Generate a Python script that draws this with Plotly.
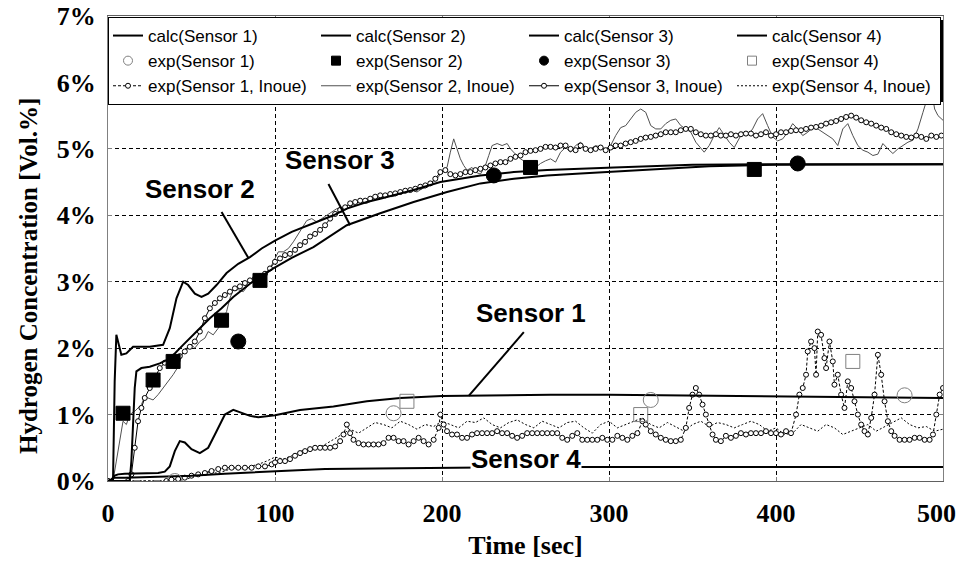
import plotly.graph_objects as go

# ---------------- calculated curves ----------------
calc1_t = [0, 2, 4, 6, 10, 20, 30, 34, 37, 40, 43, 46, 50, 55, 60, 65, 70, 75, 80, 85, 90, 100, 115, 135, 155, 175, 200, 230, 265, 300, 345, 400, 450, 500]
calc1_v = [0, 0.02, 0.08, 0.1, 0.11, 0.12, 0.12, 0.14, 0.22, 0.45, 0.6, 0.58, 0.48, 0.42, 0.5, 0.75, 1.0, 1.07, 1.03, 0.98, 0.96, 0.99, 1.07, 1.12, 1.2, 1.25, 1.28, 1.29, 1.3, 1.3, 1.29, 1.27, 1.26, 1.25]

calc2_t = [0, 3, 4, 5, 6, 8, 11, 15, 25, 33, 37, 41, 45, 48, 52, 56, 60, 65, 71, 78, 85, 92, 100, 110, 123, 135, 143, 155, 163, 175, 183, 199, 223, 243, 263, 303, 350, 400, 450, 500]
calc2_v = [0, 0, 1.5, 2.2, 2.1, 1.9, 1.92, 2.02, 2.02, 2.05, 2.3, 2.75, 3.0, 2.95, 2.82, 2.77, 2.82, 2.95, 3.13, 3.27, 3.37, 3.5, 3.62, 3.75, 3.88, 4.0, 4.1, 4.2, 4.25, 4.33, 4.38, 4.5, 4.6, 4.65, 4.68, 4.72, 4.76, 4.77, 4.77, 4.77]

calc3_t = [0, 13, 14, 15, 16, 17, 20, 25, 31, 35, 40, 45, 50, 55, 61, 68, 75, 85, 99, 110, 123, 143, 163, 183, 203, 223, 243, 263, 283, 303, 330, 360, 400, 450, 500]
calc3_v = [0, 0, 0.3, 0.9, 1.4, 1.65, 1.7, 1.72, 1.77, 1.82, 1.92, 2.05, 2.17, 2.3, 2.45, 2.6, 2.77, 2.97, 3.2, 3.36, 3.52, 3.85, 4.03, 4.2, 4.35, 4.48, 4.55, 4.6, 4.63, 4.66, 4.7, 4.74, 4.76, 4.77, 4.77]

calc4_t = [0, 2, 4, 10, 30, 50, 70, 100, 130, 160, 200, 250, 300, 400, 500]
calc4_v = [0, 0.02, 0.05, 0.05, 0.06, 0.08, 0.11, 0.15, 0.18, 0.19, 0.2, 0.21, 0.21, 0.21, 0.21]

# ---------------- experimental points ----------------
exp1_t = [40, 171, 325, 477]
exp1_v = [0.0, 1.02, 1.22, 1.29]
exp2_t = [9, 27, 39, 68, 91, 253, 387]
exp2_v = [1.02, 1.52, 1.8, 2.42, 3.02, 4.72, 4.69]
exp3_t = [78, 231, 413]
exp3_v = [2.1, 4.6, 4.78]
exp4_t = [179, 319, 446]
exp4_v = [1.2, 1.0, 1.8]

# ---------------- Inoue measurements ----------------
in1_t = [0, 35, 38, 42, 46, 50, 54, 58, 62, 66, 70, 74, 78, 82, 86, 90, 94, 98, 100, 103, 106, 109, 112, 115, 118, 121, 124, 127, 130, 133, 136, 139, 141, 143, 145, 147, 150, 153, 156, 159, 162, 165, 168, 171, 174, 177, 180, 183, 186, 189, 192, 195, 198, 199, 201, 203, 206, 209, 212, 215, 218, 221, 224, 227, 230, 233, 236, 239, 242, 245, 248, 251, 254, 257, 260, 263, 266, 269, 272, 275, 278, 281, 284, 287, 290, 293, 296, 299, 302, 305, 308, 311, 314, 317, 320, 322, 325, 328, 331, 334, 337, 340, 343, 346, 348, 350, 352, 354, 356, 358, 360, 362, 364, 367, 370, 373, 376, 379, 382, 385, 388, 391, 394, 397, 400, 403, 406, 409, 412, 414, 416, 418, 419, 421, 423, 424, 425, 427, 429, 430, 432, 434, 435, 437, 439, 441, 443, 445, 447, 449, 451, 453, 455, 457, 459, 461, 463, 465, 467, 469, 471, 474, 477, 480, 483, 486, 489, 492, 494, 496, 498, 500]
in1_v = [0, 0, 0.02, 0.03, 0.05, 0.08, 0.1, 0.12, 0.15, 0.18, 0.2, 0.2, 0.2, 0.2, 0.2, 0.22, 0.22, 0.25, 0.28, 0.3, 0.3, 0.33, 0.38, 0.42, 0.45, 0.48, 0.5, 0.5, 0.5, 0.5, 0.52, 0.6, 0.7, 0.85, 0.72, 0.62, 0.57, 0.55, 0.55, 0.55, 0.55, 0.57, 0.65, 0.65, 0.6, 0.6, 0.55, 0.6, 0.65, 0.6, 0.55, 0.62, 0.8, 1.0, 0.85, 0.75, 0.7, 0.7, 0.65, 0.65, 0.7, 0.72, 0.72, 0.72, 0.72, 0.75, 0.72, 0.72, 0.68, 0.65, 0.68, 0.72, 0.72, 0.72, 0.72, 0.72, 0.72, 0.72, 0.65, 0.62, 0.68, 0.72, 0.62, 0.62, 0.62, 0.62, 0.65, 0.62, 0.62, 0.68, 0.65, 0.62, 0.68, 0.72, 0.9, 0.85, 0.75, 0.7, 0.65, 0.62, 0.6, 0.6, 0.62, 0.8, 1.1, 1.3, 1.4, 1.3, 1.15, 1.0, 0.85, 0.7, 0.62, 0.6, 0.68, 0.65, 0.68, 0.72, 0.7, 0.72, 0.72, 0.72, 0.75, 0.72, 0.72, 0.7, 0.75, 0.72, 1.0, 1.3, 1.4, 1.6, 1.95, 2.1, 2.0, 1.6, 2.25, 2.2, 1.85, 1.7, 2.1, 1.8, 1.45, 1.6, 1.3, 1.1, 1.5, 1.4, 1.2, 1.0, 0.85, 0.75, 0.7, 0.95, 1.3, 1.9, 1.6, 1.2, 0.9, 0.75, 0.68, 0.62, 0.62, 0.62, 0.65, 0.65, 0.62, 0.62, 0.7, 1.0, 1.3, 1.4]

in2_t = [0, 3, 5, 7, 9, 11, 13, 16, 18, 20, 22, 24, 27, 30, 33, 36, 39, 42, 45, 47, 50, 52, 55, 58, 60, 63, 66, 69, 71, 73, 75, 78, 81, 84, 87, 90, 93, 96, 99, 102, 105, 108, 111, 114, 117, 119, 122, 125, 128, 131, 134, 137, 140, 143, 146, 149, 152, 155, 158, 161, 164, 167, 170, 173, 176, 179, 182, 185, 188, 191, 194, 197, 200, 203, 205, 207, 209, 211, 213, 215, 218, 220, 223, 226, 228, 230, 233, 236, 239, 241, 244, 247, 250, 253, 256, 259, 262, 265, 268, 271, 274, 277, 280, 283, 286, 289, 292, 295, 298, 301, 304, 307, 310, 313, 316, 319, 322, 325, 328, 331, 334, 337, 340, 343, 346, 349, 352, 355, 357, 360, 363, 366, 369, 372, 375, 378, 380, 383, 386, 389, 392, 395, 398, 401, 404, 407, 410, 413, 416, 419, 422, 425, 428, 431, 434, 437, 440, 443, 446, 449, 452, 455, 458, 461, 464, 467, 470, 473, 476, 479, 482, 485, 488, 491, 493, 495, 497, 500]
in2_v = [0, 0, 0.3, 0.62, 0.9, 0.85, 1.0, 1.05, 1.1, 1.15, 1.27, 1.25, 1.22, 1.3, 1.4, 1.5, 1.6, 1.72, 1.95, 2.0, 2.05, 2.0, 2.1, 2.15, 2.25, 2.2, 2.3, 2.45, 2.55, 2.75, 2.88, 2.88, 2.85, 2.95, 3.0, 3.0, 3.05, 3.15, 3.3, 3.45, 3.45, 3.5, 3.6, 3.72, 3.85, 3.92, 3.95, 3.9, 3.95, 4.0, 4.05, 4.1, 4.12, 4.1, 4.15, 4.2, 4.2, 4.18, 4.22, 4.25, 4.28, 4.3, 4.28, 4.3, 4.35, 4.38, 4.38, 4.35, 4.4, 4.42, 4.48, 4.55, 4.65, 4.72, 4.95, 5.15, 5.0, 4.85, 4.75, 4.68, 4.72, 4.65, 4.62, 4.75, 4.9, 5.05, 5.08, 5.05, 5.08, 5.0, 4.92, 4.85, 4.8, 4.75, 4.72, 4.78, 4.82, 4.85, 4.8, 4.95, 5.02, 4.95, 5.05, 5.1, 5.0, 5.0, 5.05, 5.02, 5.0, 5.05, 5.2, 5.32, 5.35, 5.45, 5.55, 5.6, 5.55, 5.35, 5.3, 5.3, 5.38, 5.43, 5.45, 5.35, 5.3, 5.25, 5.1, 5.0, 4.95, 5.05, 5.2, 5.32, 5.2, 5.1, 5.02, 5.15, 5.25, 5.2, 5.3, 5.45, 5.53, 5.35, 5.18, 5.12, 5.15, 5.25, 5.38, 5.3, 5.2, 5.25, 5.32, 5.3, 5.25, 5.2, 5.15, 5.05, 5.3, 5.38, 5.2, 5.05, 4.98, 4.95, 4.9, 4.92, 5.08, 5.0, 4.93, 5.0, 5.05, 5.1, 5.13, 5.3, 5.55, 5.8, 5.9, 5.6, 5.5, 5.43]

in3_t = [0, 12, 14, 16, 18, 20, 22, 25, 28, 31, 34, 37, 40, 43, 46, 49, 52, 55, 58, 61, 64, 67, 70, 73, 76, 79, 82, 85, 88, 91, 94, 97, 100, 103, 106, 109, 112, 115, 118, 121, 124, 127, 130, 133, 136, 139, 142, 145, 148, 151, 154, 157, 160, 163, 166, 169, 172, 175, 178, 181, 184, 187, 190, 193, 196, 199, 202, 205, 208, 211, 214, 217, 220, 223, 226, 229, 232, 235, 238, 241, 244, 247, 250, 253, 256, 259, 262, 265, 268, 271, 274, 277, 280, 283, 286, 289, 292, 295, 298, 301, 304, 307, 310, 313, 316, 319, 322, 325, 328, 331, 334, 337, 340, 343, 346, 349, 352, 355, 358, 361, 364, 367, 370, 373, 376, 379, 382, 385, 388, 391, 394, 397, 400, 403, 406, 409, 412, 415, 418, 421, 424, 427, 430, 433, 436, 439, 442, 445, 448, 451, 454, 457, 460, 463, 466, 469, 472, 475, 478, 481, 484, 487, 490, 493, 496, 499]
in3_v = [0, 0, 0.1, 0.5, 0.9, 1.1, 1.25, 1.4, 1.55, 1.7, 1.78, 1.8, 1.85, 1.88, 1.95, 2.02, 2.1, 2.25, 2.45, 2.6, 2.68, 2.75, 2.8, 2.85, 2.9, 2.93, 2.98, 3.02, 3.05, 3.08, 3.12, 3.2, 3.3, 3.35, 3.4, 3.42, 3.48, 3.55, 3.6, 3.68, 3.72, 3.78, 3.85, 3.95, 4.02, 4.08, 4.12, 4.18, 4.2, 4.22, 4.22, 4.25, 4.28, 4.3, 4.3, 4.32, 4.33, 4.35, 4.37, 4.38, 4.4, 4.43, 4.45, 4.48, 4.55, 4.65, 4.68, 4.62, 4.6, 4.62, 4.65, 4.65, 4.68, 4.7, 4.72, 4.75, 4.78, 4.8, 4.8, 4.85, 4.88, 4.9, 4.95, 4.97, 4.98, 5.0, 5.03, 5.03, 5.02, 5.05, 5.05, 5.0, 4.98, 5.05, 5.0, 4.98, 5.0, 5.02, 4.98, 5.02, 5.05, 5.05, 5.08, 5.1, 5.12, 5.15, 5.17, 5.18, 5.2, 5.22, 5.25, 5.25, 5.25, 5.28, 5.3, 5.3, 5.25, 5.22, 5.2, 5.2, 5.22, 5.2, 5.2, 5.22, 5.2, 5.22, 5.23, 5.23, 5.2, 5.22, 5.25, 5.2, 5.22, 5.25, 5.25, 5.27, 5.28, 5.28, 5.3, 5.32, 5.33, 5.35, 5.38, 5.4, 5.42, 5.45, 5.48, 5.5, 5.47, 5.43, 5.4, 5.38, 5.35, 5.32, 5.3, 5.25, 5.22, 5.2, 5.18, 5.17, 5.2, 5.18, 5.15, 5.2, 5.18, 5.2]

in4_t = [0, 40, 45, 50, 55, 60, 65, 70, 75, 80, 85, 90, 95, 100, 105, 110, 115, 120, 125, 130, 135, 140, 145, 150, 155, 160, 165, 170, 175, 180, 185, 190, 195, 200, 205, 210, 215, 220, 225, 230, 235, 240, 245, 250, 255, 260, 265, 270, 275, 280, 285, 290, 295, 300, 305, 310, 315, 320, 325, 330, 335, 340, 345, 350, 355, 360, 365, 370, 375, 380, 385, 390, 395, 400, 405, 410, 415, 420, 425, 430, 435, 440, 445, 450, 455, 460, 465, 470, 475, 480, 485, 490, 495, 500]
in4_v = [0, 0, 0.02, 0.05, 0.1, 0.13, 0.12, 0.15, 0.2, 0.18, 0.22, 0.25, 0.3, 0.36, 0.33, 0.38, 0.45, 0.48, 0.5, 0.55, 0.62, 0.7, 0.78, 0.72, 0.8, 0.88, 0.85, 0.8, 0.9, 0.85, 0.78, 0.85, 0.82, 0.9, 0.85, 0.8, 0.9, 0.88, 0.95, 0.85, 0.8, 0.88, 0.92, 0.85, 0.8, 0.9, 0.85, 0.8, 0.88, 0.9, 0.8, 0.72, 0.85, 0.9, 0.8, 0.85, 0.9, 0.95, 0.85, 0.8, 0.88, 0.82, 0.75, 0.85, 0.9, 0.82, 0.88, 0.85, 0.8, 0.85, 0.9, 0.85, 0.75, 0.8, 0.7, 0.72, 0.85, 0.8, 0.75, 0.85, 0.8, 0.7, 0.75, 0.8, 0.85, 0.75, 0.82, 0.88, 0.95, 0.85, 0.8, 0.82, 0.75, 0.78]

x_ticks = [0, 100, 200, 300, 400, 500]
x_tick_labels = ["0", "100", "200", "300", "400", ""]   # "500" is drawn right-aligned below (it would overflow)
last_x_label = "500"
y_ticks = [0, 1, 2, 3, 4, 5, 6, 7]
y_tick_labels = ["0%", "1%", "2%", "3%", "4%", "5%", "6%", "7%"]

GREY = "#808080"
fig = go.Figure()

# draw order: Inoue data first, then calc lines, then experimental points
fig.add_trace(go.Scatter(x=in4_t, y=in4_v, mode="lines", name="exp(Sensor 4, Inoue)", legendrank=12,
                         line=dict(color="black", width=1, dash="2px,2px")))
fig.add_trace(go.Scatter(x=in1_t, y=in1_v, mode="lines+markers", name="exp(Sensor 1, Inoue)", legendrank=9,
                         line=dict(color="black", width=1, dash="3px,2px"),
                         marker=dict(symbol="circle", size=5, color="white", line=dict(color="black", width=1))))
fig.add_trace(go.Scatter(x=in2_t, y=in2_v, mode="lines", name="exp(Sensor 2, Inoue)", legendrank=10,
                         line=dict(color="#505050", width=1)))
fig.add_trace(go.Scatter(x=in3_t, y=in3_v, mode="lines+markers", name="exp(Sensor 3, Inoue)", legendrank=11,
                         line=dict(color="black", width=1),
                         marker=dict(symbol="circle", size=5, color="white", line=dict(color="black", width=1))))

for i, (t, v) in enumerate([(calc1_t, calc1_v), (calc2_t, calc2_v), (calc3_t, calc3_v), (calc4_t, calc4_v)]):
    fig.add_trace(go.Scatter(x=t, y=v, mode="lines", name=f"calc(Sensor {i+1})", legendrank=i + 1,
                             line=dict(color="black", width=2)))

exp_styles = [
    ("exp(Sensor 1)", exp1_t, exp1_v, "circle-open", 15, 9, GREY),
    ("exp(Sensor 2)", exp2_t, exp2_v, "square", 14, 9, "black"),
    ("exp(Sensor 3)", exp3_t, exp3_v, "circle", 15, 9, "black"),
    ("exp(Sensor 4)", exp4_t, exp4_v, "square-open", 14, 9, GREY),
]
for k, (name, t, v, sym, size, lsize, col) in enumerate(exp_styles):
    fig.add_trace(go.Scatter(x=t, y=v, mode="markers", name=name, showlegend=False, legendgroup=name,
                             marker=dict(symbol=sym, size=size, color=col, line=dict(width=1, color=col))))
    # legend entry with the smaller symbol used in the key
    fig.add_trace(go.Scatter(x=[None], y=[None], mode="markers", name=name, legendgroup=name, legendrank=5 + k,
                             marker=dict(symbol=sym, size=lsize, color=col, line=dict(width=1, color=col))))

serif = "Liberation Serif, Times New Roman, serif"
sans = "Liberation Sans, Arial, sans-serif"
tick_font = dict(family=serif, size=26, color="black", weight="bold")


def px_to_paper_x(px):
    return (px - 108) / 835


def px_to_paper_y(py):
    return (481 - py) / 465


fig.update_layout(
    width=960, height=561,
    margin=dict(l=108, r=17, t=16, b=80, autoexpand=False),
    paper_bgcolor="white", plot_bgcolor="white",
    showlegend=True,
    legend=dict(orientation="h", x=0, xanchor="left", y=px_to_paper_y(17), yanchor="top",
                bgcolor="white", bordercolor="black", borderwidth=1,
                entrywidth=163, entrywidthmode="pixels", tracegroupgap=0,
                font=dict(family=sans, size=17, color="black")),
    xaxis=dict(range=[0, 500], tickvals=x_ticks, ticktext=x_tick_labels, showgrid=True, gridcolor="black",
               griddash="4px,3px", gridwidth=1,
               showline=True, linecolor="#606060", linewidth=1, mirror="ticks", ticks="inside", ticklen=4,
               tickcolor=GREY, zeroline=False, automargin=False, ticklabelstandoff=9,
               tickfont=tick_font,
               title=dict(text="Time [sec]", standoff=8, font=dict(family=serif, size=26, color="black", weight="bold"))),
    yaxis=dict(range=[0, 7], tickvals=y_ticks, ticktext=y_tick_labels, showgrid=True, gridcolor="black",
               griddash="4px,3px", gridwidth=1, showline=True, linecolor=GREY, linewidth=1, mirror="ticks",
               ticks="inside", ticklen=4, tickcolor=GREY, zeroline=False, automargin=False, ticklabelstandoff=6,
               ticklabeloverflow="allow",
               tickfont=tick_font),
)

# last x tick label, kept inside the picture
fig.add_annotation(xref="paper", yref="paper", x=px_to_paper_x(958), y=px_to_paper_y(513), xanchor="right",
                   yanchor="middle", text=last_x_label, showarrow=False, font=tick_font)

# y-axis title (placed as in the reference, a little below the plot centre)
fig.add_annotation(xref="paper", yref="paper", x=px_to_paper_x(28), y=px_to_paper_y(276), textangle=-90,
                   xanchor="center", yanchor="middle",
                   text="Hydrogen Concentration [Vol.%]", showarrow=False,
                   font=dict(family=serif, size=25, color="black", weight="bold"))

ann_font = dict(family=sans, size=26, color="black", weight="bold")
fig.add_annotation(x=55, y=4.4, text="Sensor 2", showarrow=False, font=ann_font)
fig.add_annotation(x=139, y=4.83, text="Sensor 3", showarrow=False, font=ann_font)
fig.add_annotation(x=253, y=2.53, text="Sensor 1", showarrow=False, font=ann_font)
fig.add_annotation(x=250, y=0.33, text="Sensor 4", showarrow=False, font=ann_font, bgcolor="white", borderpad=0)

leader = dict(color="black", width=2)
fig.add_shape(type="line", x0=68, y0=4.05, x1=84, y1=3.36, line=leader)
fig.add_shape(type="line", x0=132, y0=4.47, x1=145, y1=3.85, line=leader)
fig.add_shape(type="line", x0=249, y0=2.24, x1=216, y1=1.28, line=leader)

# legend drop shadow
fig.add_shape(type="rect", xref="paper", yref="paper", layer="above",
              x0=px_to_paper_x(111), x1=px_to_paper_x(943), y0=px_to_paper_y(102), y1=px_to_paper_y(20),
              fillcolor="black", line=dict(width=0))

fig.write_html("out.html")
